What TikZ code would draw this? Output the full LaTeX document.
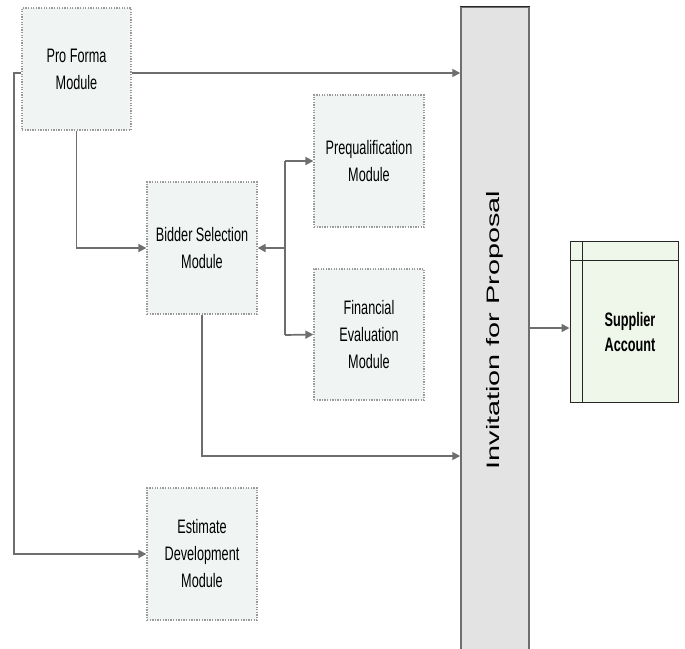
\documentclass[tikz,border=0pt]{standalone}
\usepackage{fontspec}
\usetikzlibrary{arrows.meta}
\newfontfamily\modfont[FakeStretch=0.65]{Liberation Sans}
\newfontfamily\barfont{Liberation Sans}
\definecolor{modfill}{HTML}{F0F5F3}
\definecolor{modline}{HTML}{9A9A9A}
\definecolor{connline}{HTML}{6E6E6E}
\definecolor{barfill}{HTML}{E3E3E3}
\definecolor{supfill}{HTML}{EFF7EA}
\tikzset{
  module/.style={draw=modline, fill=modfill, line width=1.3pt,
    dash pattern=on 1.3pt off 1.3pt, align=center, inner sep=0pt,
    font=\modfont\fontsize{19.5}{27}\selectfont},
  conn/.style={draw=connline, line width=1.7pt},
  arr/.style={conn, -{Triangle[length=8pt,width=8pt]}},
}
\begin{document}
\begin{tikzpicture}[x=1pt,y=-1pt]
\useasboundingbox (0,0) rectangle (685,648);

% modules
\node[module, minimum width=109pt, minimum height=122pt] (pf) at (76.5,69) {Pro Forma\\Module};
\node[module, minimum width=110pt, minimum height=132pt] (bid) at (202,248) {Bidder Selection\\Module};
\node[module, minimum width=110pt, minimum height=132pt] (pq) at (369,161) {Prequalification\\Module};
\node[module, minimum width=110pt, minimum height=131pt] (fin) at (369,334.5) {Financial\\Evaluation\\Module};
\node[module, minimum width=110pt, minimum height=132pt] (est) at (202,554) {Estimate\\Development\\Module};

% invitation bar
\node[draw=connline, fill=barfill, line width=1.5pt, minimum width=68pt, minimum height=643pt, inner sep=0pt] (inv) at (495,328.5) {};
\draw[line width=1.5pt, black!85] (inv.north west) -- (inv.north east);
\node[rotate=90, font=\barfont\fontsize{18}{20}\selectfont] (invtext) at (495,330) {\scalebox{1.6}[1]{Invitation for Proposal}};

% supplier account
\node[draw=black!85, fill=supfill, line width=1pt, minimum width=108pt, minimum height=161pt, inner sep=0pt] (sup) at (624,321.5) {};
\coordinate (suptop) at (624,260);
\draw[line width=1pt, black!85] (sup.west |- suptop) -- (sup.east |- suptop);
\draw[line width=1pt, black!85] (582,241) -- (582,402);
\node[align=center, font=\modfont\bfseries\fontsize{19.5}{25}\selectfont] (suptext) at (630,332) {Supplier\\Account};

% connectors
\coordinate (pfl) at (14,73);
\coordinate (jn) at (285,248);
\coordinate (jtop) at (285,161);
\coordinate (jbot) at (285,335);
\draw[arr] (pf.west |- pfl) -- (pfl) |- (est.west);
\draw[arr] (pf.east |- pfl) -- (inv.west |- pfl);
\draw[arr] (pf.south) |- (bid.west);
\draw[arr] (jn) -- (bid.east);
\draw[conn] (jtop) -- (jbot);
\draw[arr] (jtop) -- (pq.west);
\draw[arr] (jbot) -- (fin.west);
\coordinate (bidl) at (203,456);
\draw[arr] (bid.south) |- (inv.west |- bidl);
\coordinate (supl) at (529,328);
\draw[arr] (inv.east |- supl) -- (sup.west |- supl);
\end{tikzpicture}
\end{document}
